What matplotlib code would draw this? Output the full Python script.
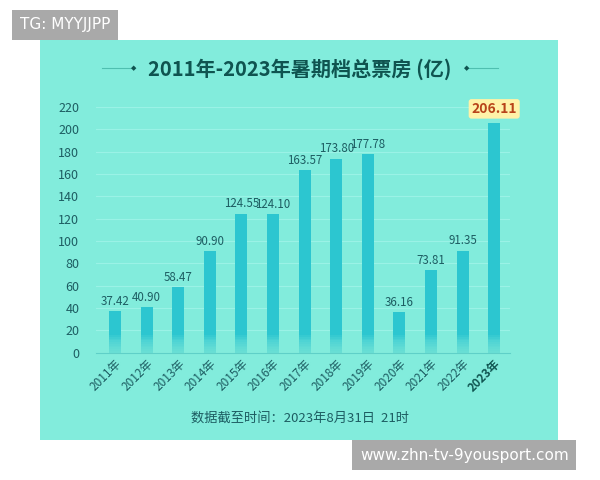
import matplotlib
matplotlib.use("Agg")
import matplotlib.pyplot as plt
import numpy as np
from matplotlib.patches import Rectangle

plt.rcParams["font.family"] = ["Noto Sans CJK SC", "DejaVu Sans"]

years = ["2011年", "2012年", "2013年", "2014年", "2015年", "2016年", "2017年",
         "2018年", "2019年", "2020年", "2021年", "2022年", "2023年"]
box_office = [37.42, 40.90, 58.47, 90.90, 124.55, 124.10, 163.57,
              173.80, 177.78, 36.16, 73.81, 91.35, 206.11]
yticks = [0, 20, 40, 60, 80, 100, 120, 140, 160, 180, 200, 220]

PANEL = "#82ecdc"
BAR = "#2cc6d0"
DARK = "#0f5450"
TEXT = "#1d5d62"

fig = plt.figure(figsize=(6, 4.8), dpi=100)
fig.patch.set_facecolor("white")
fig.add_artist(Rectangle((0.067, 0.083), 0.863, 0.834, transform=fig.transFigure,
                         facecolor=PANEL, edgecolor="none", zorder=0))

ax = fig.add_axes([0.16, 0.265, 0.69, 0.512])
ax.set_facecolor("none")
x = np.arange(len(years))
ax.bar(x, box_office, width=0.38, color=BAR, zorder=3)
# fade the bottom of each bar into the panel
for k in range(10):
    ax.bar(x, np.minimum(16 - k * 1.6, box_office), width=0.38,
           color=PANEL, alpha=0.12, zorder=4)

for i, v in enumerate(box_office):
    if i == len(years) - 1:
        ax.text(i, v + 6, f"{v:.2f}", ha="center", va="bottom", fontsize=10,
                fontweight="bold", color="#b8431a", zorder=5,
                bbox=dict(boxstyle="round,pad=0.2", fc="#fff2a8", ec="none"))
    else:
        ax.text(i, v + 3, f"{v:.2f}", ha="center", va="bottom", fontsize=8.3,
                color=TEXT, zorder=5)

ax.set_ylim(0, 220)
ax.set_xlim(-0.6, len(years) - 0.5)
ax.set_yticks(yticks)
ax.yaxis.grid(True, color="#9af2e6", linewidth=0.8, zorder=1)
ax.tick_params(axis="y", length=0, labelsize=9, labelcolor=TEXT, pad=12)
ax.tick_params(axis="x", length=0, labelsize=8.5, labelcolor=TEXT, pad=3)
ax.set_xticks(x)
ax.set_xticklabels(years, rotation=45, ha="right", rotation_mode="anchor")
ax.get_xticklabels()[-1].set_fontweight("bold")
ax.get_xticklabels()[-1].set_color(DARK)
for s in ["top", "right", "left"]:
    ax.spines[s].set_visible(False)
ax.spines["bottom"].set_color("#5fd0c8")

fig.text(0.5, 0.855, "2011年-2023年暑期档总票房 (亿)", ha="center", va="center",
         fontsize=14.5, fontweight="bold", color=DARK)
fig.add_artist(plt.Line2D([0.17, 0.22], [0.859, 0.859], color="#4fbfb0", lw=0.8))
fig.add_artist(plt.Line2D([0.78, 0.83], [0.859, 0.859], color="#4fbfb0", lw=0.8))
fig.text(0.222, 0.859, "◆", ha="center", va="center", fontsize=5, color=DARK,
         family="DejaVu Sans")
fig.text(0.778, 0.859, "◆", ha="center", va="center", fontsize=5, color=DARK,
         family="DejaVu Sans")

fig.text(0.5, 0.128, "数据截至时间：2023年8月31日  21时", ha="center", va="center",
         fontsize=9.5, color=TEXT)

fig.text(0.033, 0.948, "TG: MYYJJPP", ha="left", va="center", fontsize=11,
         color="white", family="DejaVu Sans",
         bbox=dict(boxstyle="square,pad=0.5", fc="#a9a9a9", ec="none"))
fig.text(0.6, 0.052, "www.zhn-tv-9yousport.com", ha="left", va="center",
         fontsize=11, color="white", family="DejaVu Sans",
         bbox=dict(boxstyle="square,pad=0.5", fc="#a9a9a9", ec="none"))

fig.savefig("out.png", dpi=100)
